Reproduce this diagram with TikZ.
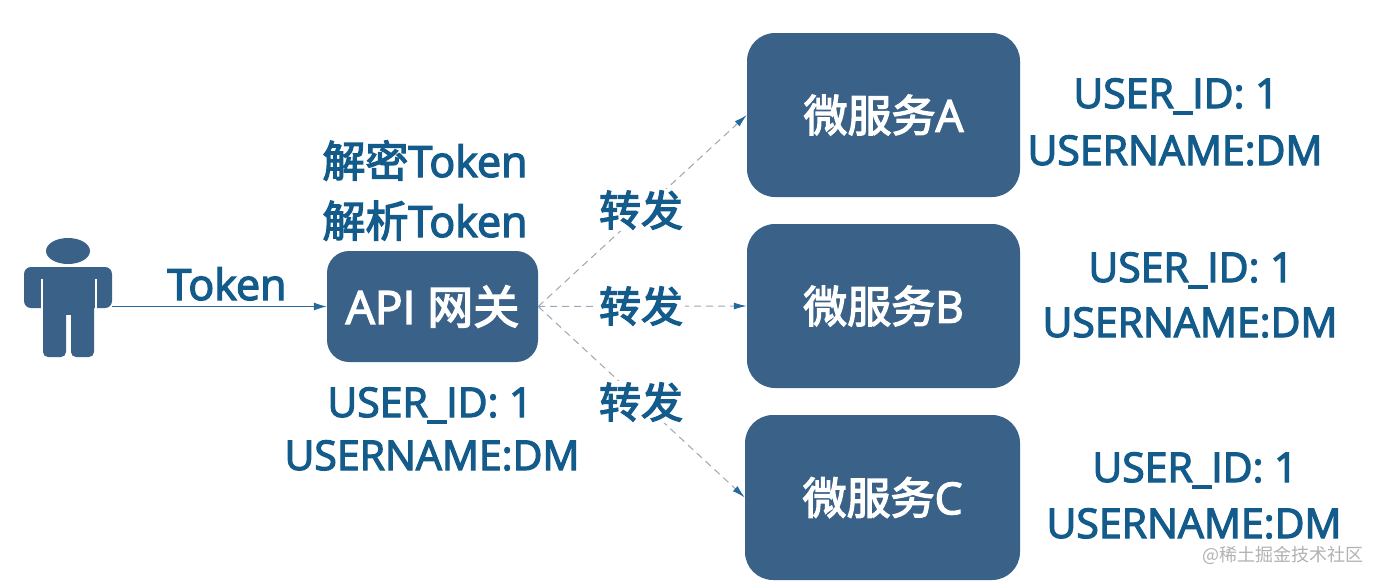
\documentclass[tikz,border=0pt]{standalone}
\usepackage{fontspec}
\newfontfamily\lat{Open Sans}[FakeBold=3]
\newfontfamily\cjk{Noto Sans CJK SC}[FakeBold=3]
\newfontfamily\cjkthin{Noto Sans CJK SC}
\usetikzlibrary{arrows.meta}
\definecolor{boxfill}{HTML}{3A6289}
\definecolor{txtblue}{HTML}{135B8A}
\definecolor{dashgray}{HTML}{9AA8B5}
\definecolor{tipblue}{HTML}{26699B}
\begin{document}
\begin{tikzpicture}[x=1pt,y=-1pt,
  svcbox/.style={fill=boxfill, rounded corners=28pt, text=white, font=\lat\fontsize{44}{50}\selectfont, inner sep=0pt},
  lbl/.style={text=txtblue, font=\lat\fontsize{43}{50}\selectfont, inner sep=0pt, anchor=base},
  uinfo/.style={text=txtblue, font=\lat\fontsize{41}{50}\selectfont, inner sep=0pt, anchor=base},
  fwd/.style={text=txtblue, font=\cjk\fontsize{42}{50}\selectfont, fill=white, inner sep=2pt},
  solidarrow/.style={draw=tipblue, line width=1pt, -{Latex[length=13pt,width=8pt]}},
  dasharrow/.style={draw=dashgray, line width=1pt, dash pattern=on 7pt off 5pt, -{Latex[length=13pt,width=7pt,color=tipblue]}},
]
\useasboundingbox[fill=white] (0,0) rectangle (1379,584);

% person icon
\fill[boxfill] (68,251) ellipse [x radius=22, y radius=13];
\fill[boxfill, rounded corners=7pt] (24,267) rectangle (112,308);
\draw[white, line width=2pt] (41.5,279) -- (41.5,310);
\draw[white, line width=2pt] (95.5,279) -- (95.5,310);
\fill[boxfill] (43,290) rectangle (94,315);
\fill[boxfill, rounded corners=5pt] (43,300) rectangle (66,357);
\fill[boxfill, rounded corners=5pt] (71,300) rectangle (94,357);
\coordinate (usr) at (112,306.5);

% boxes
\node[svcbox, rounded corners=22pt, minimum width=211pt, minimum height=111pt, font=\lat\fontsize{46}{50}\selectfont] (gw) at (432.5,306.5) {API {\cjk 网关}};
\node[svcbox, minimum width=273pt, minimum height=164pt] (svcA) at (883.5,115) {{\cjk 微服务}A};
\node[svcbox, minimum width=273pt, minimum height=164pt] (svcB) at (883.5,306) {{\cjk 微服务}B};
\node[svcbox, minimum width=275pt, minimum height=165pt] (svcC) at (882.5,497.5) {{\cjk 微服务}C};

% connectors
\draw[solidarrow] (usr) -- (gw.west);
\draw[dasharrow] (gw.east) -- (svcA.west);
\draw[dasharrow] (gw.east) -- (svcB.west);
\draw[dasharrow] (gw.east) -- (svcC.west);

% labels
\node[lbl] (tok) at (227,300) {Token};
\node[lbl] (dec) at (425,177) {{\cjk 解密}Token};
\node[lbl] (par) at (425,237) {{\cjk 解析}Token};

\node[fwd] (f1) at (641,210) {转发};
\node[fwd] (f2) at (641,306) {转发};
\node[fwd] (f3) at (641,402) {转发};

\node[uinfo] (g1) at (430,417) {USER\_ID: 1};
\node[uinfo] (g2) at (432,470) {USERNAME:DM};
\node[uinfo] (a1) at (1176,108) {USER\_ID: 1};
\node[uinfo] (a2) at (1175,165) {USERNAME:DM};
\node[uinfo] (b1) at (1191,282) {USER\_ID: 1};
\node[uinfo] (b2) at (1190,337) {USERNAME:DM};
\node[uinfo] (c1) at (1195,482) {USER\_ID: 1};
\node[uinfo] (c2) at (1194,538) {USERNAME:DM};

\node[text=gray!60, font=\cjkthin\fontsize{18}{20}\selectfont, inner sep=0pt] (wm) at (1283,555) {@稀土掘金技术社区};
\end{tikzpicture}
\end{document}
